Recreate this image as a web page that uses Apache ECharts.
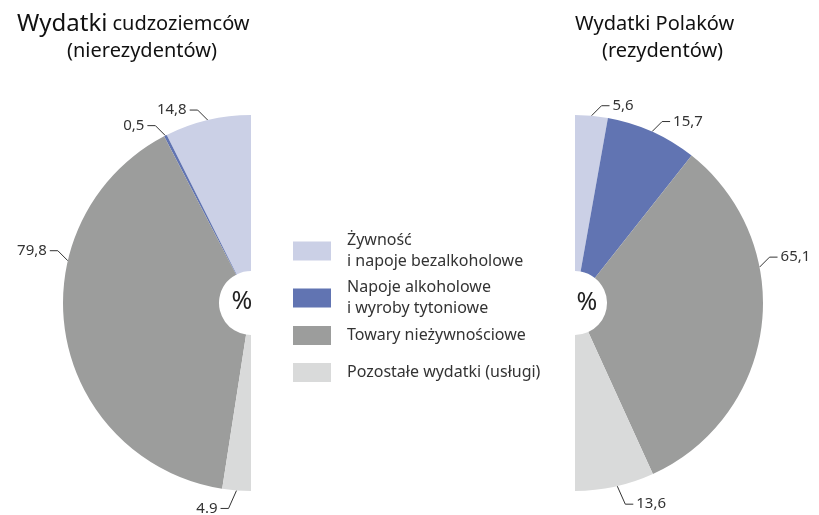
<!DOCTYPE html>
<html><head><meta charset="utf-8">
<script src="https://cdn.jsdelivr.net/npm/echarts@6/dist/echarts.min.js"></script>
<style>html,body{margin:0;padding:0;background:#fff}#c{width:819px;height:515px}</style>
</head><body><div id="c"></div>
<script>
const categories = ['Żywność\ni napoje bezalkoholowe', 'Napoje alkoholowe\ni wyroby tytoniowe', 'Towary nieżywnościowe', 'Pozostałe wydatki (usługi)'];
const nonResidentValues = [14.8, 0.5, 79.8, 4.9];
const residentValues = [5.6, 15.7, 65.1, 13.6];
const nonResidentLabels = ['14,8', '0,5', '79,8', '4.9'];
const residentLabels = ['5,6', '15,7', '65,1', '13,6'];
const colors = ['#cbd0e6', '#6174b2', '#9c9d9c', '#d9dada'];

const FONT = 'Noto Sans';
const R = 188, R0 = 32, CY = 303;
const CX = [251, 575];
const CLOCKWISE = [false, true];
// where the reference anchors a label away from the slice middle (degrees)
const labelAngle = {0: {2: 167}, 1: {2: 11, 3: -77}};

function sum(a) { return a.reduce((x, y) => x + y, 0); }
function midAngles(values, clockwise) {
  const total = sum(values);
  let acc = 0;
  return values.map(v => {
    const mid = acc + v / 2; acc += v;
    const deg = mid / total * 180;
    return clockwise ? 90 - deg : 90 + deg;
  });
}
const mids = [midAngles(nonResidentValues, false), midAngles(residentValues, true)];
const texts = [nonResidentLabels, residentLabels];

function buildData(values) {
  const d = values.map((v, i) => ({name: categories[i], value: v, itemStyle: {color: colors[i]}}));
  d.push({name: '', value: sum(values), itemStyle: {color: 'rgba(0,0,0,0)'},
    label: {show: false}, labelLine: {show: false}, emphasis: {disabled: true}});
  return d;
}

function layoutLabel(params) {
  const s = params.seriesIndex, i = params.dataIndex;
  if (i >= 4) return {};
  const ang = (labelAngle[s] && labelAngle[s][i] != null) ? labelAngle[s][i] : mids[s][i];
  const rad = ang * Math.PI / 180;
  const ex = CX[s] + R * Math.cos(rad), ey = CY - R * Math.sin(rad);
  const sx = Math.cos(rad) >= 0 ? 1 : -1;
  const up = Math.sin(rad) >= 0;
  const p1 = up ? [ex + sx * 10, ey - 10] : [ex + sx * 8, ey + 18];
  const p2 = [p1[0] + sx * 8, p1[1]];
  return {x: p2[0] + sx * 3, y: p2[1], align: sx > 0 ? 'left' : 'right', verticalAlign: 'middle',
    labelLinePoints: [[ex, ey], p1, p2]};
}

function pieSeries(idx, values) {
  return {
    type: 'pie', name: idx === 0 ? 'nierezydenci' : 'rezydenci',
    center: [CX[idx], CY], radius: [R0, R],
    startAngle: 90, clockwise: CLOCKWISE[idx],
    avoidLabelOverlap: false, silent: true,
    label: {show: true, position: 'outside', color: '#333', fontSize: 15, fontFamily: FONT,
      formatter: p => texts[idx][p.dataIndex]},
    labelLine: {show: true, lineStyle: {color: '#333', width: 1}},
    labelLayout: layoutLabel,
    data: buildData(values)
  };
}

const legendTops = [225, 272, 320, 357];
const titleStyle = {fontSize: 20, fontFamily: FONT, color: '#111', fontWeight: 'normal'};
const chart = echarts.init(document.getElementById('c'));
chart.setOption({
  animation: false,
  backgroundColor: '#fff',
  title: [
    {text: '{a|Wydatki} {b|cudzoziemców}', left: 17, top: 12, padding: 0,
      textStyle: {fontWeight: 'normal', rich: {a: {fontSize: 24, fontFamily: FONT, color: '#111', fontWeight: 'normal'}, b: titleStyle}}},
    {text: '(nierezydentów)', left: 67, top: 41, padding: 0, textStyle: titleStyle},
    {text: 'Wydatki Polaków', left: 575, top: 14, padding: 0, textStyle: titleStyle},
    {text: '(rezydentów)', left: 602, top: 41, padding: 0, textStyle: titleStyle}
  ],
  legend: categories.map((c, i) => ({
    data: [c], left: 288, top: legendTops[i], orient: 'vertical', icon: 'rect',
    itemWidth: 38, itemHeight: 19, selectedMode: false,
    textStyle: {fontSize: 16, lineHeight: 21, color: '#333', fontFamily: FONT, padding: [0, 0, 0, 11]}
  })),
  graphic: [
    {type: 'text', x: 242, y: 302, style: {text: '%', fontSize: 25, fontFamily: FONT, fill: '#222', align: 'center', verticalAlign: 'middle'}},
    {type: 'text', x: 587, y: 303, style: {text: '%', fontSize: 25, fontFamily: FONT, fill: '#222', align: 'center', verticalAlign: 'middle'}}
  ],
  series: [pieSeries(0, nonResidentValues), pieSeries(1, residentValues)]
});
</script></body></html>
